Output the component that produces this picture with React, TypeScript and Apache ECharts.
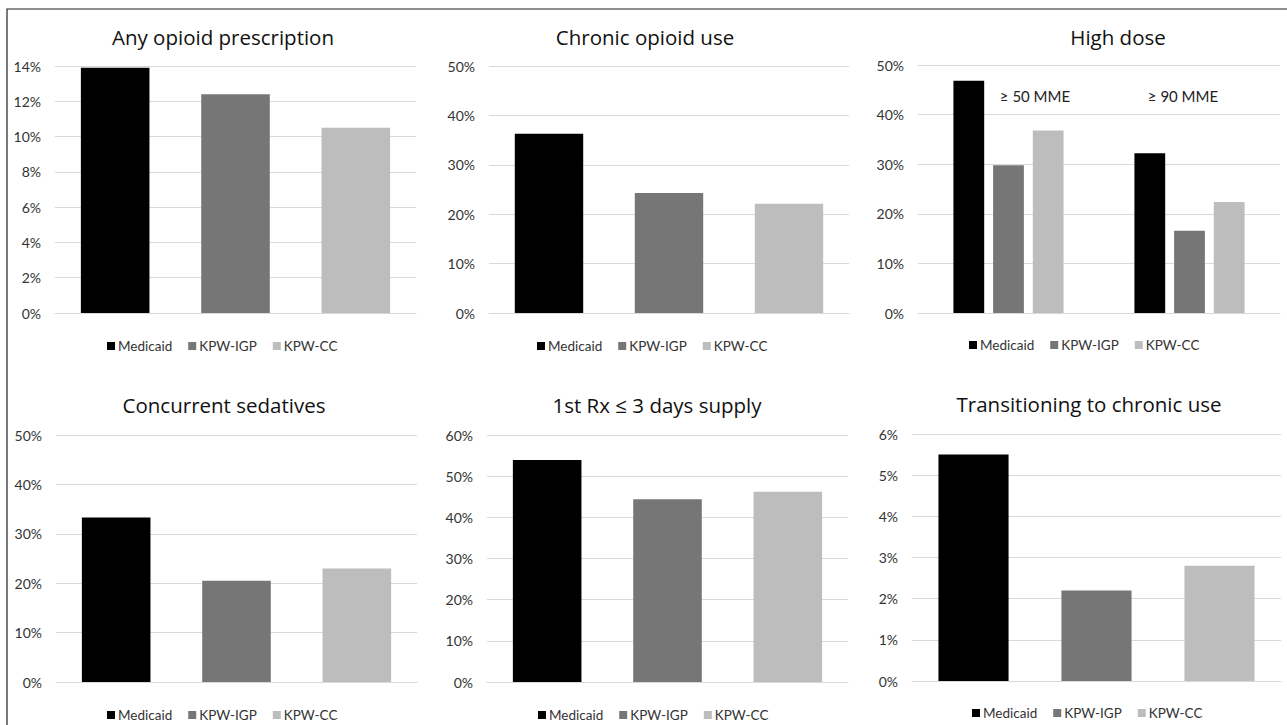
import React, { useEffect, useRef } from "react";
import * as echarts from "echarts";

const seriesNames = ["Medicaid", "KPW-IGP", "KPW-CC"];
const seriesColors = ["#000000", "#767676", "#bdbdbd"];

const panelTitles = [
  "Any opioid prescription",
  "Chronic opioid use",
  "High dose",
  "Concurrent sedatives",
  "1st Rx ≤ 3 days supply",
  "Transitioning to chronic use",
];

// values per panel, ordered Medicaid, KPW-IGP, KPW-CC
const anyOpioid = [13.9, 12.4, 10.5];
const chronicUse = [36.3, 24.3, 22.1];
const sedatives = [33.3, 20.5, 23.0];
const shortSupply = [53.9, 44.4, 46.2];
const transitioning = [5.5, 2.2, 2.8];

// High dose panel: categories and per-series values
const highDoseCategories = ["≥ 50 MME", "≥ 90 MME"];
const highDoseMedicaid = [46.8, 32.2];
const highDoseIGP = [29.8, 16.6];
const highDoseCC = [36.8, 22.4];

const yMax = [14, 50, 50, 50, 60, 6];
const yInterval = [2, 10, 10, 10, 10, 1];

const FONT = "Lato, 'Open Sans', sans-serif";
const TITLE_FONT = "'Open Sans', Lato, sans-serif";

// layout (pixels)
const grids = [
  { left: 55, top: 66, width: 361, height: 247 },
  { left: 489, top: 66, width: 360, height: 247 },
  { left: 918, top: 65, width: 362, height: 248 },
  { left: 56, top: 435, width: 361, height: 247 },
  { left: 487, top: 435, width: 361, height: 247 },
  { left: 912, top: 434, width: 369, height: 247 },
];
const titlePos = [
  [218, 32],
  [640, 32],
  [1113, 32],
  [219, 400],
  [652, 400],
  [1084, 399],
];
const legendPos = [
  [107, 339],
  [537, 339],
  [969, 338],
  [107, 708],
  [538, 708],
  [972, 706],
];

export default function App() {
  const ref = useRef<HTMLDivElement>(null);

  useEffect(() => {
    if (!ref.current) return;
    const chart = echarts.init(ref.current, undefined, { renderer: "svg" });

    const simplePanels: { idx: number; values: number[] }[] = [
      { idx: 0, values: anyOpioid },
      { idx: 1, values: chronicUse },
      { idx: 3, values: sedatives },
      { idx: 4, values: shortSupply },
      { idx: 5, values: transitioning },
    ];

    const xAxes: any[] = [];
    const yAxes: any[] = [];
    const series: any[] = [];

    for (let i = 0; i < 6; i++) {
      xAxes.push({
        type: "category",
        gridIndex: i,
        data: i === 2 ? highDoseCategories : seriesNames,
        axisLine: { show: true, lineStyle: { color: "#d9d9d9", width: 1 } },
        axisTick: { show: false },
        axisLabel: { show: false },
      });
      yAxes.push({
        type: "value",
        gridIndex: i,
        min: 0,
        max: yMax[i],
        interval: yInterval[i],
        axisLine: { show: false },
        axisTick: { show: false },
        splitLine: { lineStyle: { color: "#d9d9d9", width: 1 } },
        axisLabel: {
          formatter: "{value}%",
          color: "#333333",
          fontSize: 14,
          fontFamily: FONT,
          margin: 14,
        },
      });
    }

    simplePanels.forEach(({ idx, values }) => {
      seriesNames.forEach((name, j) => {
        series.push({
          type: "bar",
          name,
          xAxisIndex: idx,
          yAxisIndex: idx,
          stack: "p" + idx,
          barWidth: "57%",
          itemStyle: { color: seriesColors[j] },
          data: seriesNames.map((_, k) => (k === j ? values[j] : "-")),
        });
      });
    });

    const highDose = [highDoseMedicaid, highDoseIGP, highDoseCC];
    seriesNames.forEach((name, j) => {
      series.push({
        type: "bar",
        name,
        xAxisIndex: 2,
        yAxisIndex: 2,
        barWidth: "17%",
        barGap: "29%",
        itemStyle: { color: seriesColors[j] },
        data: highDose[j],
      });
    });

    const option: any = {
      animation: false,
      backgroundColor: "#ffffff",
      title: panelTitles.map((t, i) => ({
        text: t,
        left: titlePos[i][0],
        top: titlePos[i][1],
        textAlign: "center",
        textVerticalAlign: "middle",
        textStyle: {
          fontSize: 20.5,
          fontWeight: "normal",
          color: "#111111",
          fontFamily: TITLE_FONT,
        },
      })),
      legend: legendPos.map((p) => ({
        left: p[0],
        top: p[1],
        orient: "horizontal",
        icon: "rect",
        itemWidth: 8,
        itemHeight: 8,
        itemGap: 16,
        selectedMode: false,
        padding: 0,
        textStyle: {
          fontSize: 13.5,
          color: "#333333",
          fontFamily: FONT,
          padding: [0, 0, 0, -2],
        },
        data: seriesNames,
      })),
      grid: grids.map((g) => ({ ...g, containLabel: false })),
      xAxis: xAxes,
      yAxis: yAxes,
      series,
      graphic: [
        {
          type: "rect",
          shape: { x: 7, y: 9, width: 1300, height: 740 },
          style: { fill: "none", stroke: "#222222", lineWidth: 1.2 },
          silent: true,
        },
        {
          type: "text",
          x: 1035,
          y: 96,
          style: {
            text: highDoseCategories[0],
            fontSize: 15,
            fontFamily: FONT,
            fill: "#222222",
            textAlign: "center",
            textVerticalAlign: "middle",
          },
        },
        {
          type: "text",
          x: 1183,
          y: 96,
          style: {
            text: highDoseCategories[1],
            fontSize: 15,
            fontFamily: FONT,
            fill: "#222222",
            textAlign: "center",
            textVerticalAlign: "middle",
          },
        },
      ],
    };

    chart.setOption(option);
    return () => chart.dispose();
  }, []);

  return (
    <div
      ref={ref}
      style={{ position: "absolute", left: 0, top: 0, width: 1287, height: 725 }}
    />
  );
}
